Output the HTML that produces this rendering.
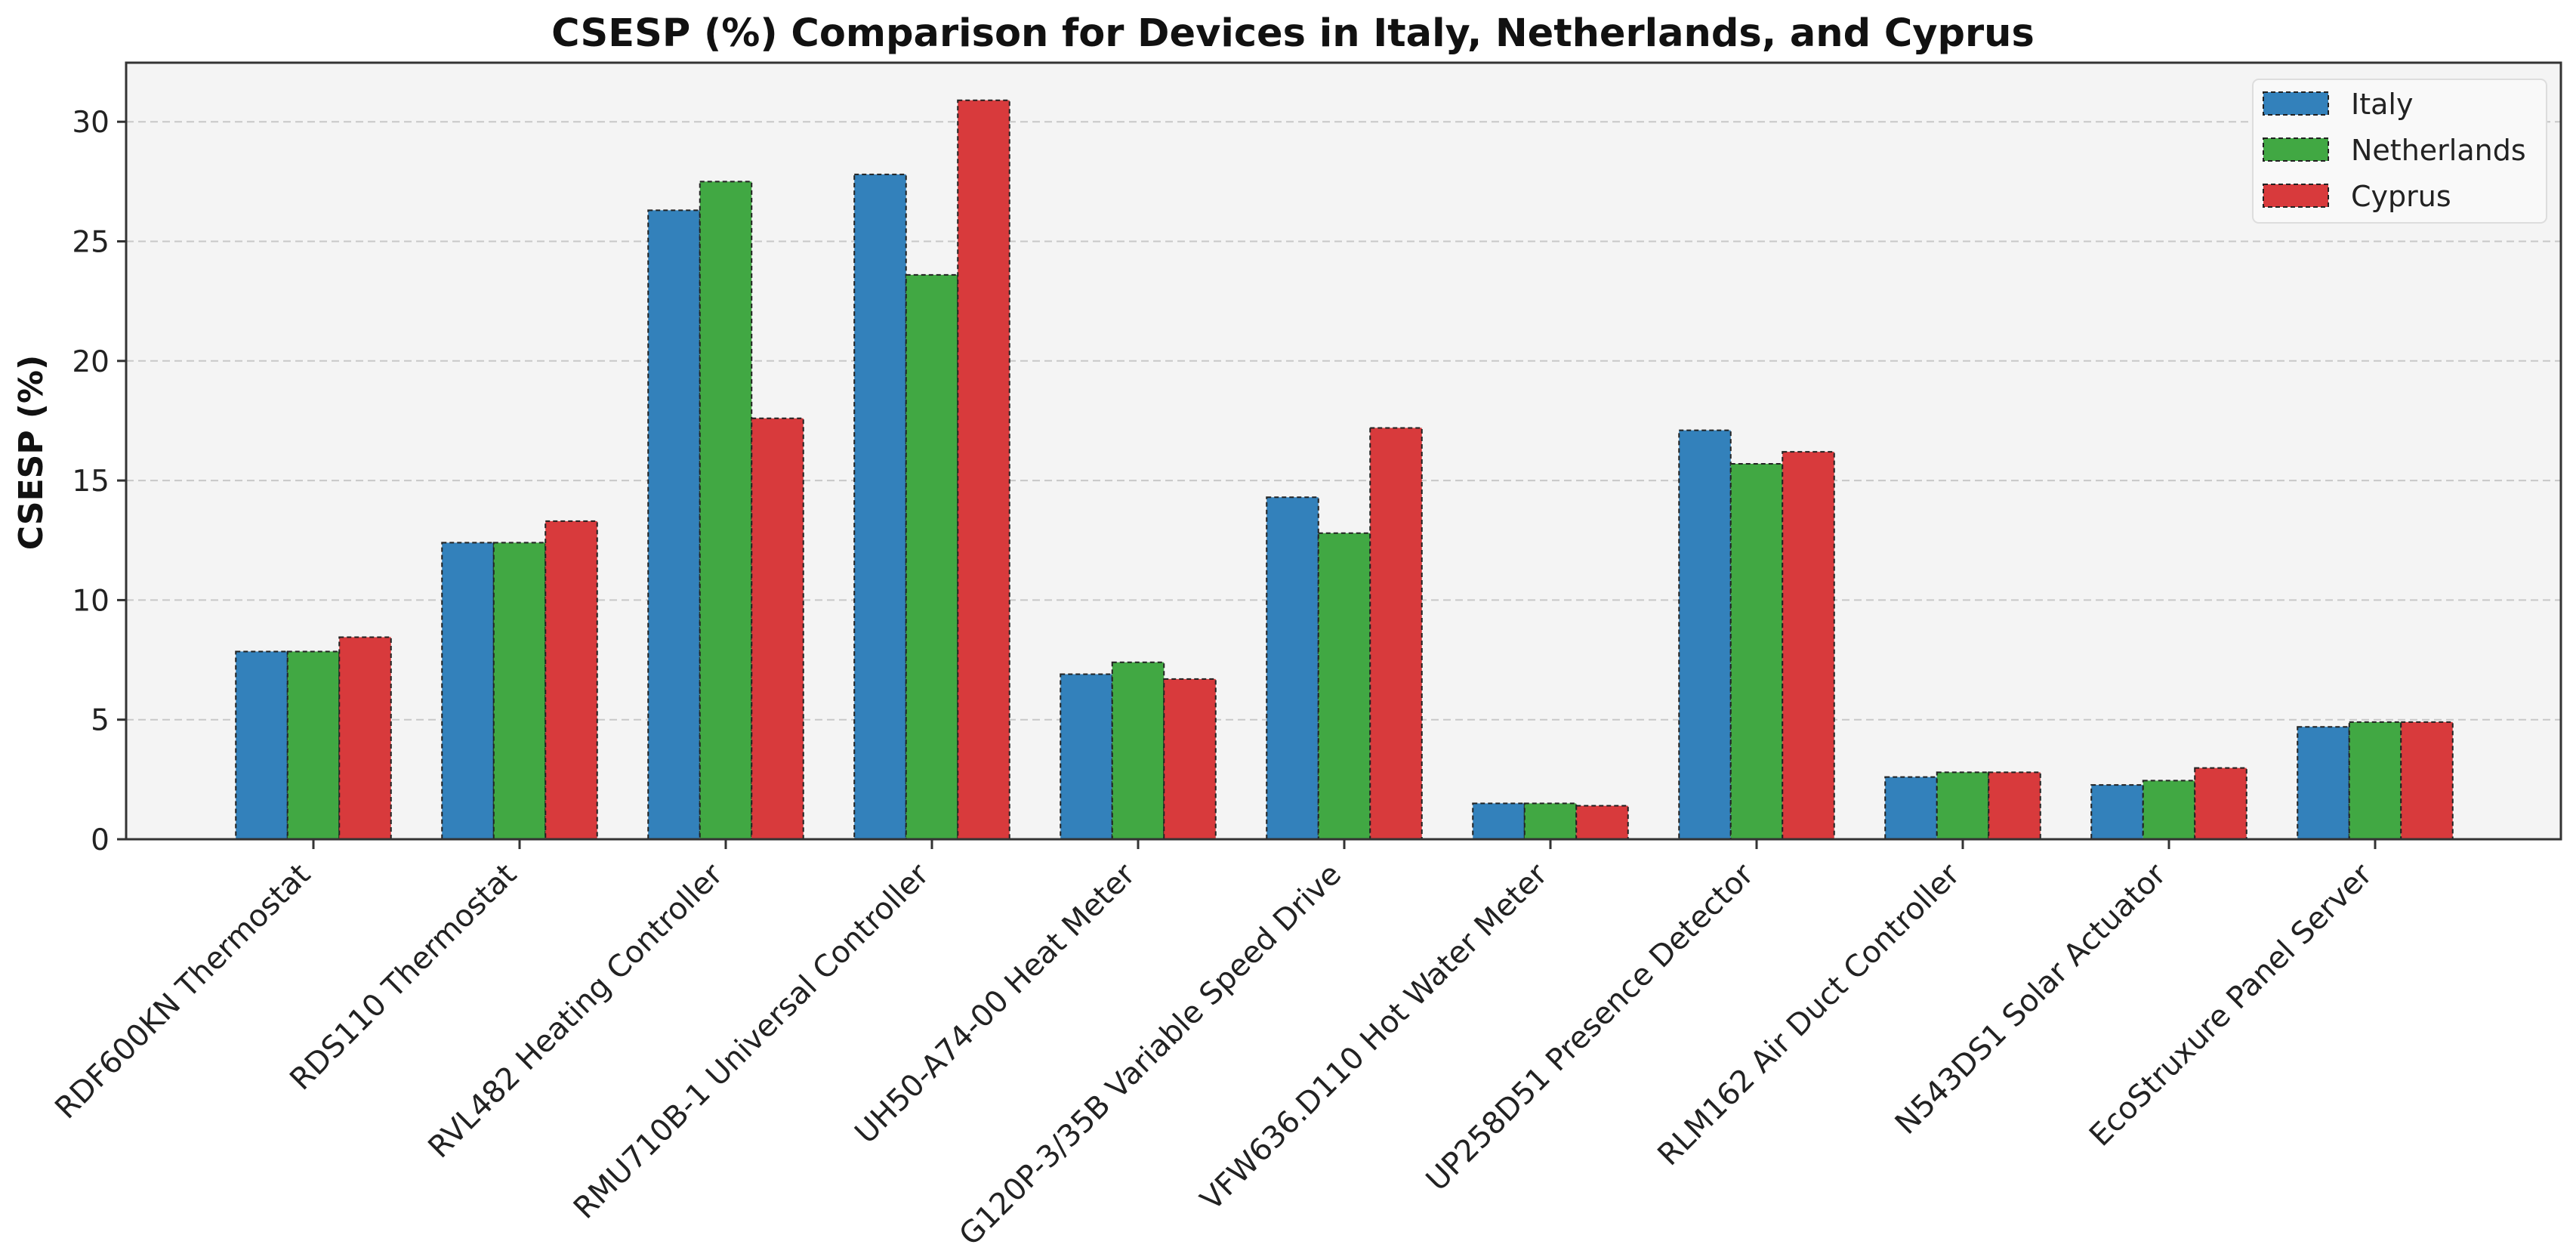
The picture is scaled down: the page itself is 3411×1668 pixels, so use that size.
<!DOCTYPE html>
<html><head><meta charset="utf-8"><style>
html,body{margin:0;padding:0;background:#fff;}
svg{display:block;font-family:"DejaVu Sans","Liberation Sans",sans-serif;}
</style></head><body>
<svg id="chart" width="3411" height="1668" viewBox="0 0 3411 1668" xmlns="http://www.w3.org/2000/svg">
<rect x="0" y="0" width="3411" height="1668" fill="#ffffff"/>
<rect x="167" y="83" width="3224" height="1028" fill="#f4f4f4"/>
<g id="grid"></g>
<g id="bars"></g>
<g id="xaxis"></g>
<g id="yaxis"></g>
<rect x="167" y="83" width="3224" height="1028" fill="none" stroke="#333" stroke-width="3"/>
<text x="1712" y="61" text-anchor="middle" font-size="51" font-weight="bold" fill="#111">CSESP (%) Comparison for Devices in Italy, Netherlands, and Cyprus</text>
<text transform="translate(56,599) rotate(-90)" text-anchor="middle" font-size="44" font-weight="bold" fill="#111">CSESP (%)</text>
<g id="legend">
<rect x="2983" y="105" width="389" height="190" rx="8" fill="#f9f9f9" stroke="#dddddd" stroke-width="2"/>
</g>
</svg>
<script>
const categories = ["RDF600KN Thermostat","RDS110 Thermostat","RVL482 Heating Controller","RMU710B-1 Universal Controller","UH50-A74-00 Heat Meter","G120P-3/35B Variable Speed Drive","VFW636.D110 Hot Water Meter","UP258D51 Presence Detector","RLM162 Air Duct Controller","N543DS1 Solar Actuator","EcoStruxure Panel Server"];
const seriesNames = ["Italy","Netherlands","Cyprus"];
const italy = [7.85,12.4,26.3,27.8,6.9,14.3,1.5,17.1,2.6,2.27,4.7];
const netherlands = [7.85,12.4,27.5,23.6,7.4,12.8,1.5,15.7,2.8,2.45,4.9];
const cyprus = [8.45,13.3,17.6,30.9,6.7,17.2,1.4,16.2,2.8,2.98,4.9];
const yTicks = [0,5,10,15,20,25,30];

const NS = "http://www.w3.org/2000/svg";
const colors = ["#3381bb","#41a843","#d83a3c"];
const series = [italy, netherlands, cyprus];
function xPos(i){ return 415 + i*273; }
function yPos(v){ return 1111 - v*31.66; }
const barW = 68.5;
function mk(tag, attrs, parent){ const e=document.createElementNS(NS,tag); for(const k in attrs) e.setAttribute(k,attrs[k]); parent.appendChild(e); return e; }

const grid=document.getElementById('grid'), bars=document.getElementById('bars'), xa=document.getElementById('xaxis'), ya=document.getElementById('yaxis'), lg=document.getElementById('legend');
yTicks.forEach(t=>{
  const y=yPos(t);
  if(t>0){ const g=mk('line',{x1:167,x2:3391,y1:y,y2:y,stroke:'#c8c8c8','stroke-width':2,'stroke-dasharray':'10,6'},grid);
    
     }
  const tk=mk('line',{x1:155,x2:167,y1:y,y2:y,stroke:'#333','stroke-width':3},ya);
  
  
  const tx=mk('text',{x:145,y:y+14,'text-anchor':'end','font-size':39,fill:'#222'},ya);
  
  
  tx.textContent=t;
});
categories.forEach((c,i)=>{
  series.forEach((s,k)=>{
    const x=xPos(i)+(k-1)*barW-barW/2, y=yPos(s[i]);
    const r=mk('rect',{x:x,y:y,width:barW,height:1111-y,fill:colors[k],stroke:'#222','stroke-width':2,'stroke-dasharray':'6,4'},bars);
    
    
  });
  const x=xPos(i);
  const tk=mk('line',{x1:x,x2:x,y1:1111,y2:1124,stroke:'#333','stroke-width':3},xa);
  
  
  const tx=mk('text',{transform:'translate('+(x-2)+',1160) rotate(-45)','text-anchor':'end','font-size':40,fill:'#222'},xa);
  
  
  tx.textContent=c;
});
seriesNames.forEach((n,k)=>{
  const cy=137+k*61;
  const p=mk('rect',{x:2997,y:cy-15,width:86,height:30,fill:colors[k],stroke:'#222','stroke-width':2,'stroke-dasharray':'6,4'},lg);
  
  
  const t=mk('text',{x:3113,y:cy+14,'font-size':38,fill:'#222'},lg);
  
  
  t.textContent=n;
});
</script>
</body></html>
